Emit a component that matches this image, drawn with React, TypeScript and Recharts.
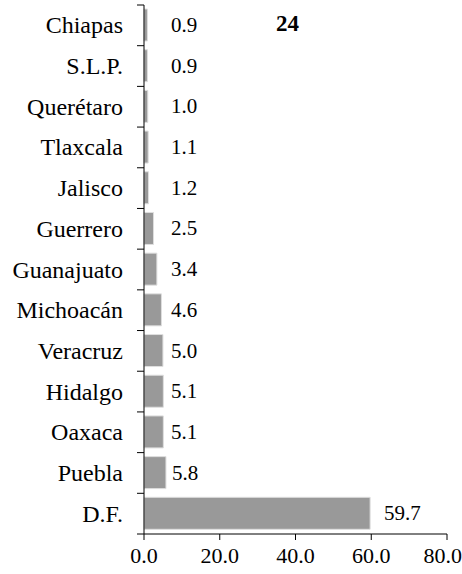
import { BarChart, Bar, XAxis, YAxis, LabelList } from 'recharts'

const states = [
  'Chiapas',
  'S.L.P.',
  'Querétaro',
  'Tlaxcala',
  'Jalisco',
  'Guerrero',
  'Guanajuato',
  'Michoacán',
  'Veracruz',
  'Hidalgo',
  'Oaxaca',
  'Puebla',
  'D.F.'
]
const shares = [0.9, 0.9, 1.0, 1.1, 1.2, 2.5, 3.4, 4.6, 5.0, 5.1, 5.1, 5.8, 59.7]
const xTicks = [0, 20, 40, 60, 80]
const panelNumber = '24'

const W = 462
const H = 574
const MARGIN = { top: 5, right: 15, bottom: 0, left: 0 }
const YAXIS_W = 144
const XAXIS_H = 40
const FONT = 'Liberation Serif'

const data = states.map((name, i) => ({ name, value: shares[i] }))

const plotTop = MARGIN.top
const plotBottom = H - MARGIN.bottom - XAXIS_H
const band = (plotBottom - plotTop) / states.length
const axisX = MARGIN.left + YAXIS_W

// Excel-style category axis: tick marks sit on the band edges, not the centres
function StateTick(props: any) {
  const { y, payload, index } = props
  return (
    <g>
      <line x1={axisX - 7} x2={axisX} y1={y - band / 2} y2={y - band / 2} stroke="#000" />
      {index === states.length - 1 && (
        <line x1={axisX - 7} x2={axisX} y1={y + band / 2} y2={y + band / 2} stroke="#000" />
      )}
      <text
        x={axisX - 21}
        y={y}
        textAnchor="end"
        dominantBaseline="central"
        fontFamily={FONT}
        fontSize={24}
        fill="#000"
      >
        {payload.value}
      </text>
    </g>
  )
}

function ValueLabel(props: any) {
  const { x, y, width, height, value } = props
  const gap = width > 100 ? 14 : 6
  const lx = Math.max(x + width + gap, x + 27)
  return (
    <text
      x={lx}
      y={y + height / 2}
      dominantBaseline="central"
      fontFamily={FONT}
      fontSize={21}
      fill="#000"
    >
      {Number(value).toFixed(1)}
    </text>
  )
}

export default function App() {
  return (
    <div className="chart24" style={{ position: 'absolute', left: 0, top: 0, width: W, height: H }}>
      <style>{`.chart24, .chart24 text, .chart24 div { font-family: 'Liberation Serif', serif !important; }`}</style>
      <BarChart
        width={W}
        height={H}
        data={data}
        layout="vertical"
        margin={MARGIN}
        barSize={32}
      >
        <XAxis
          type="number"
          domain={[0, 80]}
          ticks={xTicks}
          tickFormatter={(v: number) => v.toFixed(1)}
          height={XAXIS_H}
          stroke="#000"
          tickSize={6}
          tickMargin={7}
          tick={{ fontFamily: FONT, fontSize: 22, fill: '#000' }}
        />
        <YAxis
          type="category"
          dataKey="name"
          width={YAXIS_W}
          stroke="#000"
          tickLine={false}
          interval={0}
          tick={<StateTick />}
        />
        <Bar
          dataKey="value"
          fill="#999999"
          stroke="#dedede"
          strokeWidth={1}
          isAnimationActive={false}
        >
          <LabelList dataKey="value" content={<ValueLabel />} />
        </Bar>
      </BarChart>
      <div
        style={{
          position: 'absolute',
          left: 276,
          top: 10,
          fontFamily: FONT,
          fontSize: 23,
          fontWeight: 'bold',
          lineHeight: '28px'
        }}
      >
        {panelNumber}
      </div>
    </div>
  )
}
